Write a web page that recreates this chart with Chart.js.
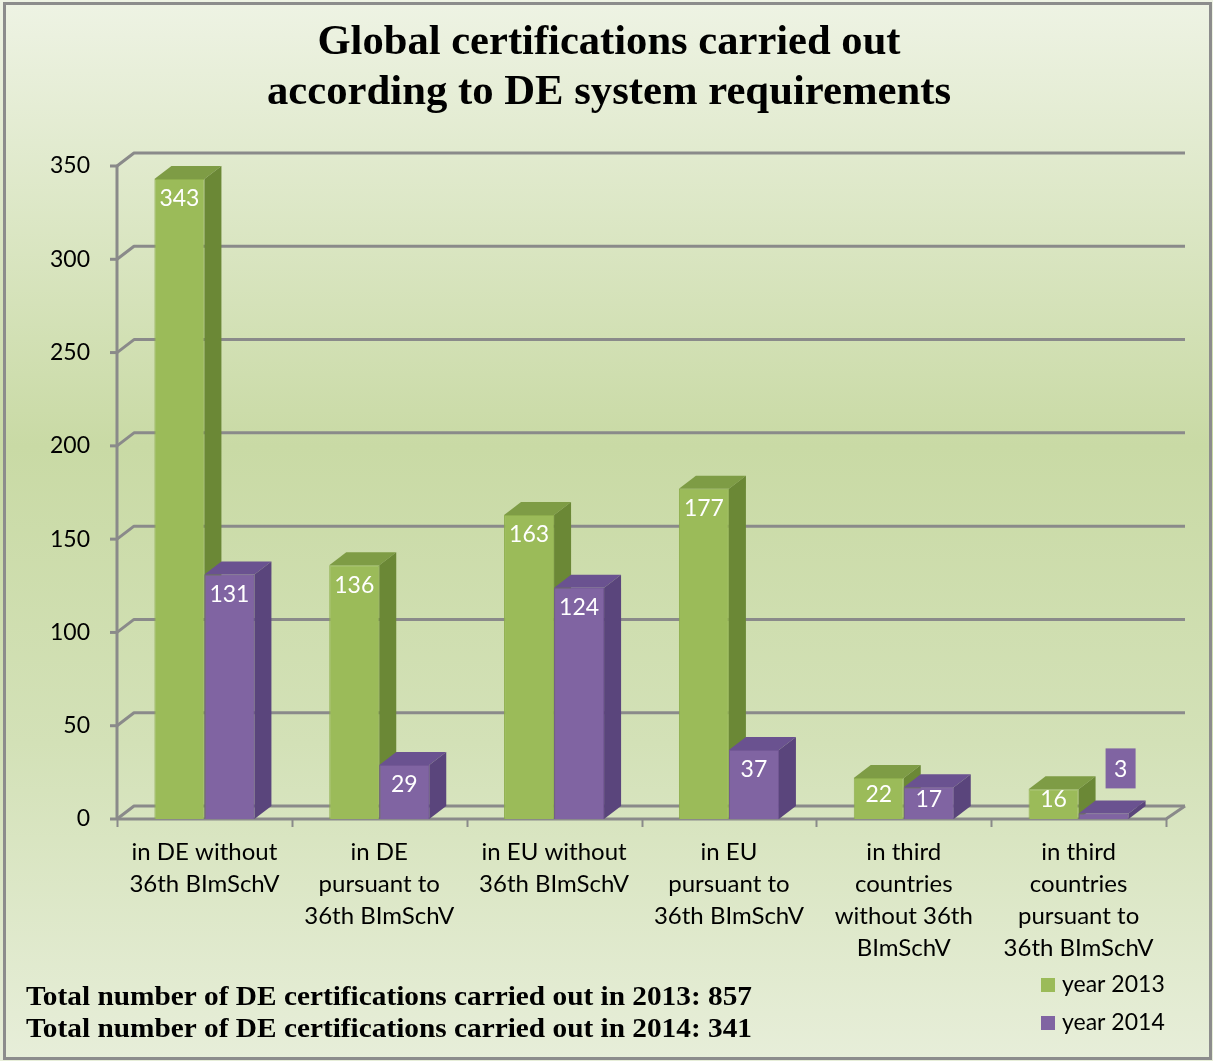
<!DOCTYPE html>
<html>
<head>
<meta charset="utf-8">
<script src="https://cdn.jsdelivr.net/npm/chart.js@4.4.1/dist/chart.umd.min.js"></script>
<style>
  html, body { margin: 0; padding: 0; background: #fff; }
  #wrap { width: 1213px; height: 1061px; position: relative; }
</style>
</head>
<body>
<div id="wrap"><canvas id="chart"></canvas></div>
<script>
// chart data
const categories = [
  ['in DE without', '36th BImSchV'],
  ['in DE', 'pursuant to', '36th BImSchV'],
  ['in EU without', '36th BImSchV'],
  ['in EU', 'pursuant to', '36th BImSchV'],
  ['in third', 'countries', 'without 36th', 'BImSchV'],
  ['in third', 'countries', 'pursuant to', '36th BImSchV'],
];
const values2013 = [343, 136, 163, 177, 22, 16];
const values2014 = [131, 29, 124, 37, 17, 3];
const seriesLabels = ['year 2013', 'year 2014'];
const titleLines = ['Global certifications carried out', 'according to DE system requirements'];
const footerLines = [
  'Total number of DE certifications carried out in 2013: 857',
  'Total number of DE certifications carried out in 2014: 341',
];

const DX = 17, DY = -13; // 3d depth offset
const colors = {
  front: ['#9bbb59', '#8064a2'],
  top: ['#7e9c45', '#6a5290'],
  side: ['#6b8836', '#5a457c'],
};

// background + frame
const backgroundPlugin = {
  id: 'bg',
  beforeDraw(chart) {
    const ctx = chart.ctx;
    const g = ctx.createLinearGradient(0, 0, 0, chart.height);
    g.addColorStop(0, '#eef3e4');
    g.addColorStop(0.42, '#c9daa5');
    g.addColorStop(0.7, '#d3e1b7');
    g.addColorStop(1, '#e7eed9');
    ctx.save();
    ctx.fillStyle = g;
    ctx.fillRect(0, 0, chart.width, chart.height);
    ctx.strokeStyle = '#8c8c8c';
    ctx.lineWidth = 3;
    ctx.strokeRect(4.5, 3.5, chart.width - 7, chart.height - 6);
    ctx.restore();
  },
};

const drawFaces = (ctx, meta, di) => {
  meta.data.forEach((bar) => {
    const p = bar.getProps(['x', 'y', 'base', 'width'], true);
    const l = p.x - p.width / 2;
    const r = p.x + p.width / 2;
    ctx.fillStyle = colors.top[di];
    ctx.beginPath();
    ctx.moveTo(l, p.y);
    ctx.lineTo(r, p.y);
    ctx.lineTo(r + DX, p.y + DY);
    ctx.lineTo(l + DX, p.y + DY);
    ctx.closePath();
    ctx.fill();
    ctx.fillStyle = colors.side[di];
    ctx.beginPath();
    ctx.moveTo(r, p.y);
    ctx.lineTo(r + DX, p.y + DY);
    ctx.lineTo(r + DX, p.base + DY);
    ctx.lineTo(r, p.base);
    ctx.closePath();
    ctx.fill();
  });
};

// walls, gridlines and floor of the 3d box
const wallsPlugin = {
  id: 'walls',
  beforeDatasetsDraw(chart) {
    const ctx = chart.ctx;
    const y = chart.scales.y;
    const { left, right } = chart.chartArea;
    const y0 = y.getPixelForValue(0);
    ctx.save();
    ctx.strokeStyle = '#8a8a8a';
    ctx.lineWidth = 3;
    ctx.lineJoin = 'round';
    y.ticks.forEach((t) => {
      const py = y.getPixelForValue(t.value);
      ctx.beginPath();
      ctx.moveTo(left, py);
      ctx.lineTo(left + DX, py + DY);
      ctx.lineTo(right + DX + 2, py + DY);
      ctx.stroke();
      ctx.beginPath();
      ctx.moveTo(left - 7, py);
      ctx.lineTo(left, py);
      ctx.stroke();
    });
    ctx.beginPath();
    ctx.moveTo(left, y.getPixelForValue(y.max));
    ctx.lineTo(left, y0);
    ctx.stroke();
    ctx.beginPath();
    ctx.moveTo(left, y0);
    ctx.lineTo(right, y0);
    ctx.lineTo(right + DX + 2, y0 + DY);
    ctx.stroke();
    ctx.lineWidth = 2;
    const step = (right - left) / categories.length;
    for (let i = 0; i <= categories.length; i++) {
      const px = Math.round(left + i * step) + 0.5;
      ctx.beginPath();
      ctx.moveTo(px, y0);
      ctx.lineTo(px, y0 + 8);
      ctx.stroke();
    }
    ctx.restore();
  },
  // datasets are painted last-to-first, so the 2013 set comes last;
  // repaint the 2014 set after it so the purple fronts cover green side faces
  afterDatasetDraw(chart, args) {
    if (args.index !== 0) return;
    const ctx = chart.ctx;
    ctx.save();
    drawFaces(ctx, args.meta, 0);
    const purple = chart.getDatasetMeta(1);
    purple.data.forEach((el) => el.draw(ctx, chart.chartArea));
    drawFaces(ctx, purple, 1);
    ctx.restore();
  },
};

// value labels, title, footer, legend
const textPlugin = {
  id: 'texts',
  afterDatasetsDraw(chart) {
    const ctx = chart.ctx;
    ctx.save();
    ctx.font = '23px Lato';
    ctx.textAlign = 'center';
    ctx.textBaseline = 'middle';
    chart.data.datasets.forEach((ds, di) => {
      const meta = chart.getDatasetMeta(di);
      meta.data.forEach((bar, i) => {
        const p = bar.getProps(['x', 'y', 'base', 'width'], true);
        const h = p.base - p.y;
        const v = String(ds.data[i]);
        if (h < 20) {
          const bx = p.x + DX, by = p.y - 45;
          ctx.fillStyle = colors.front[di];
          ctx.fillRect(bx - 15, by - 20, 30, 40);
          ctx.fillStyle = '#fff';
          ctx.fillText(v, bx, by + 1);
        } else {
          const cy = h < 50 ? (p.y + p.base) / 2 - 4 : p.y + 20;
          ctx.fillStyle = '#fff';
          ctx.fillText(v, p.x, cy);
        }
      });
    });
    ctx.restore();
  },
  afterDraw(chart) {
    const ctx = chart.ctx;
    ctx.save();
    ctx.fillStyle = '#000';
    ctx.textBaseline = 'alphabetic';
    ctx.textAlign = 'left';
    const fitText = (txt, cx, baseline, width, font, center) => {
      ctx.font = font;
      const w = ctx.measureText(txt).width;
      const x0 = center ? cx - width / 2 : cx;
      ctx.save();
      ctx.translate(x0, baseline);
      ctx.scale(width / w, 1);
      ctx.fillText(txt, 0, 0);
      ctx.restore();
    };
    fitText(titleLines[0], 609, 54, 583, 'bold 42px "Liberation Serif"', true);
    fitText(titleLines[1], 609, 104, 684, 'bold 42px "Liberation Serif"', true);
    fitText(footerLines[0], 26, 1005, 726, 'bold 27px "Liberation Serif"', false);
    fitText(footerLines[1], 26, 1037, 726, 'bold 27px "Liberation Serif"', false);

    // legend
    ctx.font = '23px Lato';
    ctx.textBaseline = 'middle';
    seriesLabels.forEach((lab, i) => {
      const ly = 985 + i * 38;
      ctx.fillStyle = colors.front[i];
      ctx.fillRect(1041, ly - 7, 14, 14);
      ctx.fillStyle = '#000';
      ctx.fillText(lab, 1062, ly);
    });
    ctx.restore();
  },
};

new Chart(document.getElementById('chart'), {
  type: 'bar',
  data: {
    labels: categories,
    datasets: [
      {
        label: seriesLabels[0],
        data: values2013,
        backgroundColor: colors.front[0],
        borderColor: '#8eae4d',
        borderWidth: 1,
      },
      {
        label: seriesLabels[1],
        data: values2014,
        backgroundColor: colors.front[1],
        borderColor: '#735896',
        borderWidth: 1,
      },
    ],
  },
  options: {
    responsive: true,
    maintainAspectRatio: false,
    animation: false,
    categoryPercentage: 0.572,
    barPercentage: 1.0,
    layout: { padding: { top: 166, left: 0, right: 47, bottom: 0 } },
    plugins: {
      legend: { display: false },
      title: { display: false },
      tooltip: { enabled: false },
    },
    scales: {
      x: {
        grid: { display: false, drawTicks: false },
        border: { display: false },
        ticks: {
          padding: 17,
          color: '#000',
          maxRotation: 0,
          autoSkip: false,
          font: { family: 'Lato', size: 24, lineHeight: 1.34 },
        },
        afterFit(scale) { scale.height = 242; },
      },
      y: {
        min: 0,
        max: 350,
        grid: { display: false, drawTicks: false },
        border: { display: false },
        ticks: {
          stepSize: 50,
          padding: 27,
          color: '#000',
          font: { family: 'Lato', size: 23 },
        },
        afterFit(scale) { scale.width = 117; },
      },
    },
  },
  plugins: [backgroundPlugin, wallsPlugin, textPlugin],
});
</script>
</body>
</html>
